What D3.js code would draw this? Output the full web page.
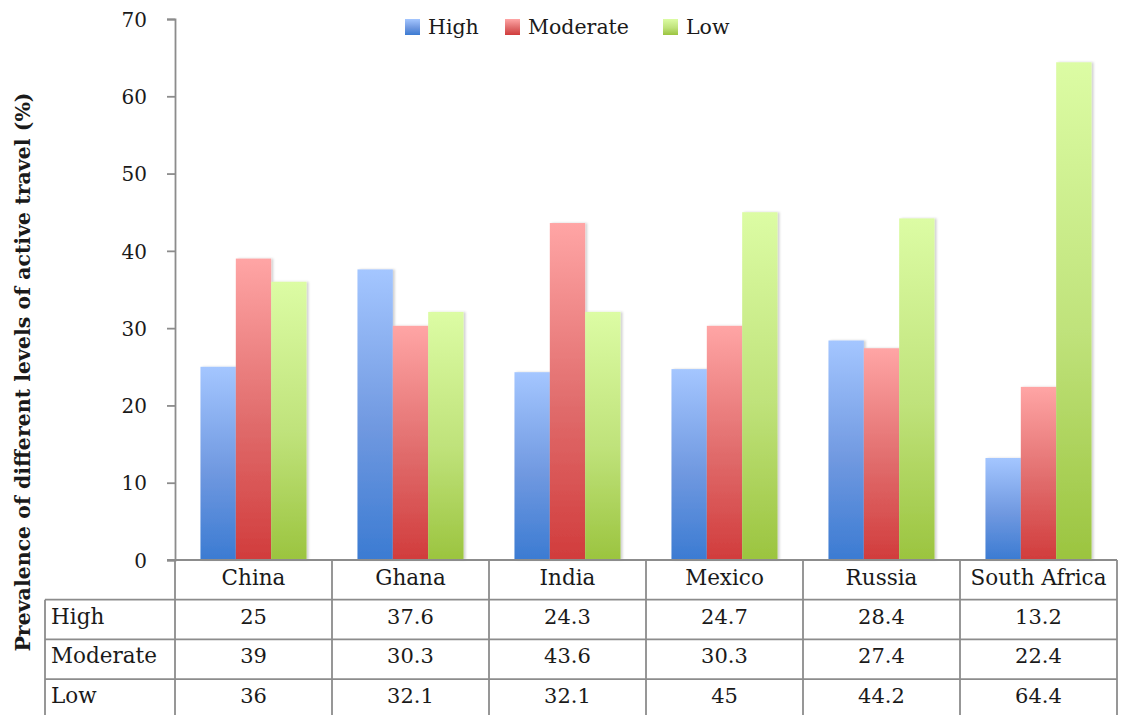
<!DOCTYPE html>
<html>
<head>
<meta charset="utf-8">
<script src="https://cdn.jsdelivr.net/npm/d3@7"></script>
<style>
  html, body { margin: 0; padding: 0; background: #fff; }
  svg { display: block; }
  text { font-family: "DejaVu Serif", "Liberation Serif", serif; fill: #1a1a1a; }
</style>
</head>
<body>
<svg id="chart" width="1121" height="715"></svg>
<script>
// Prevalence (%) of active travel levels by country
const countries = ["China", "Ghana", "India", "Mexico", "Russia", "South Africa"];
const levels = ["High", "Moderate", "Low"];
const highValues = [25, 37.6, 24.3, 24.7, 28.4, 13.2];
const moderateValues = [39, 30.3, 43.6, 30.3, 27.4, 22.4];
const lowValues = [36, 32.1, 32.1, 45, 44.2, 64.4];
const yTicks = [0, 10, 20, 30, 40, 50, 60, 70];
const yTitle = "Prevalence of different levels of active travel (%)";

const seriesValues = { High: highValues, Moderate: moderateValues, Low: lowValues };

const svg = d3.select("#chart");
const plot = { left: 175, right: 1117, top: 19, bottom: 560 };
const rowH = 39.7;
const tableLeft = 45;
const gridColor = "#8c8c8c";

// gradient fills: light at the top of each bar, saturated at its base
const palette = {
  High: ["#a4c6ff", "#6f98e0", "#3b7bd2"],
  Moderate: ["#ffa5a5", "#e06b6b", "#d13c3c"],
  Low: ["#dcfca4", "#bfe27a", "#9bc43f"]
};
const defs = svg.append("defs");
levels.forEach(l => {
  const g = defs.append("linearGradient")
    .attr("id", "grad-" + l).attr("x1", 0).attr("y1", 0).attr("x2", 0).attr("y2", 1);
  g.append("stop").attr("offset", "0%").attr("stop-color", palette[l][0]);
  g.append("stop").attr("offset", "55%").attr("stop-color", palette[l][1]);
  g.append("stop").attr("offset", "100%").attr("stop-color", palette[l][2]);
});
const shadow = defs.append("filter").attr("id", "barShadow")
  .attr("x", "-20%").attr("y", "-5%").attr("width", "150%").attr("height", "110%");
shadow.append("feDropShadow").attr("dx", 2).attr("dy", 0).attr("stdDeviation", 1.2)
  .attr("flood-color", "#000").attr("flood-opacity", 0.18);

// scales
const x = d3.scaleBand().domain(countries).range([plot.left, plot.right]).padding(0);
const xInner = d3.scaleBand().domain(levels).range([0, x.bandwidth()]).paddingInner(0).paddingOuter(0.72);
const y = d3.scaleLinear().domain([0, 70]).range([plot.bottom, plot.top]);

// y axis
const yAxis = svg.append("g")
  .attr("transform", `translate(${plot.left},0)`)
  .call(d3.axisLeft(y).tickValues(yTicks).tickSize(8).tickPadding(20).tickSizeOuter(8));
yAxis.select(".domain").attr("stroke", gridColor).attr("stroke-width", 1.8);
yAxis.selectAll(".tick line").attr("stroke", gridColor).attr("stroke-width", 1.8);
yAxis.selectAll(".tick text")
  .attr("font-family", "'DejaVu Serif', serif")
  .attr("font-size", 20).attr("fill", "#1a1a1a").attr("dy", "0.36em");

// bars
const groups = svg.append("g").selectAll("g")
  .data(countries)
  .join("g")
  .attr("transform", c => `translate(${x(c)},0)`);
groups.selectAll("rect")
  .data((c, i) => levels.map(l => ({ level: l, value: seriesValues[l][i] })))
  .join("rect")
  .attr("x", d => xInner(d.level))
  .attr("width", xInner.bandwidth())
  .attr("y", d => y(d.value))
  .attr("height", d => y(0) - y(d.value))
  .attr("fill", d => `url(#grad-${d.level})`)
  .attr("filter", "url(#barShadow)");

// data table beneath the plot
const table = svg.append("g");
const tableBottom = plot.bottom + rowH * 4;
// horizontal rules
table.append("line")
  .attr("x1", plot.left - 8).attr("x2", plot.right)
  .attr("y1", plot.bottom).attr("y2", plot.bottom)
  .attr("stroke", gridColor).attr("stroke-width", 1.8);
[1, 2, 3].forEach(r => {
  table.append("line")
    .attr("x1", tableLeft).attr("x2", plot.right)
    .attr("y1", plot.bottom + rowH * r).attr("y2", plot.bottom + rowH * r)
    .attr("stroke", gridColor).attr("stroke-width", 1.8);
});
// vertical rules
countries.forEach(c => {
  table.append("line")
    .attr("x1", x(c)).attr("x2", x(c))
    .attr("y1", plot.bottom).attr("y2", tableBottom)
    .attr("stroke", gridColor).attr("stroke-width", 1.8);
});
table.append("line")
  .attr("x1", plot.right).attr("x2", plot.right)
  .attr("y1", plot.bottom).attr("y2", tableBottom)
  .attr("stroke", gridColor).attr("stroke-width", 1.8);
table.append("line")
  .attr("x1", tableLeft).attr("x2", tableLeft)
  .attr("y1", plot.bottom + rowH).attr("y2", tableBottom)
  .attr("stroke", gridColor).attr("stroke-width", 1.8);

// header: country names
table.selectAll("text.head")
  .data(countries)
  .join("text")
  .attr("class", "head")
  .attr("x", c => x(c) + x.bandwidth() / 2)
  .attr("y", plot.bottom + 25)
  .attr("text-anchor", "middle")
  .attr("font-size", 21.5)
  .text(c => c);

// rows: level label and values
levels.forEach((l, r) => {
  const baseY = plot.bottom + rowH * (r + 1) + 24;
  table.append("text")
    .attr("x", tableLeft + 6).attr("y", baseY)
    .attr("font-size", 21.5)
    .text(l);
  table.selectAll(null)
    .data(seriesValues[l])
    .join("text")
    .attr("x", (v, i) => x(countries[i]) + x.bandwidth() / 2)
    .attr("y", baseY)
    .attr("text-anchor", "middle")
    .attr("font-size", 21)
    .text(v => v);
});

// legend
const legendItems = [
  { level: "High", x: 405 },
  { level: "Moderate", x: 505 },
  { level: "Low", x: 663 }
];
const legend = svg.append("g");
legendItems.forEach(it => {
  legend.append("rect")
    .attr("x", it.x).attr("y", 19).attr("width", 15).attr("height", 16)
    .attr("fill", `url(#grad-${it.level})`);
  legend.append("text")
    .attr("x", it.x + 23).attr("y", 34)
    .attr("font-size", 20.5)
    .text(it.level);
});

// y axis title
svg.append("text")
  .attr("transform", `translate(30,372) rotate(-90)`)
  .attr("text-anchor", "middle")
  .attr("font-size", 20.5)
  .attr("font-weight", "bold")
  .text(yTitle);
</script>
</body>
</html>
